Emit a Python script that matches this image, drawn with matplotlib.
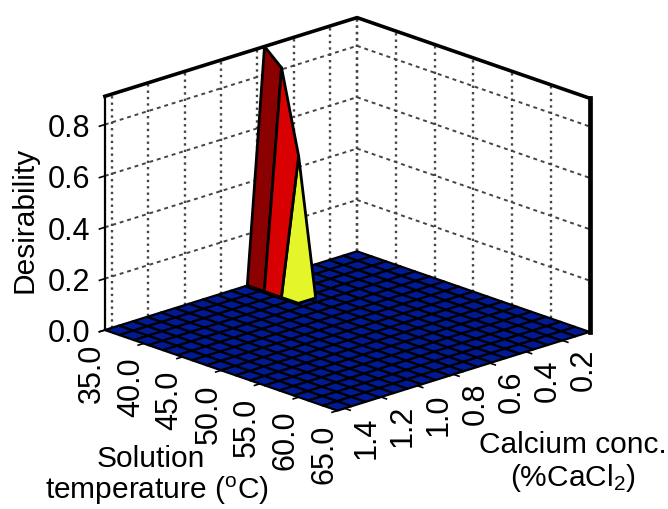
# Desirability surface, temperature vs calcium concentration
import matplotlib
matplotlib.use("Agg")
import matplotlib.pyplot as plt
import numpy as np
from mpl_toolkits.mplot3d import proj3d
from mpl_toolkits.mplot3d.art3d import Poly3DCollection

plt.rcParams['font.family'] = ['Liberation Sans', 'DejaVu Sans']
plt.rcParams['mathtext.fontset'] = 'custom'
plt.rcParams['mathtext.rm'] = 'Liberation Sans'
plt.rcParams['mathtext.default'] = 'rm'

# Axis ticks
temp_ticks = [35.0, 40.0, 45.0, 50.0, 55.0, 60.0, 65.0]
ca_ticks = [1.4, 1.2, 1.0, 0.8, 0.6, 0.4, 0.2]
z_ticks = [0.0, 0.2, 0.4, 0.6, 0.8]

# Axis limits
temp_lim = (35.0, 65.0)
ca_lim = (0.05, 1.44)
z_top = 0.91

# Flat part of the surface
n_temp_cells = 16
n_ca_cells = 18

# Peak
peak_temp = [35.0, 37.2, 39.4, 41.6]
peak_ca_front = 0.655
peak_ca_ridge = 0.56
peak_z = [0.91, 0.85, 0.53, 0.0]
peak_colors = ['#8b0000', '#d80000', '#e4f52a']

NAVY = '#001a96'

fig = plt.figure(figsize=(6.68, 5.10), dpi=100)
ax = fig.add_axes([0.0095, 0.0647, 1, 1], projection='3d', computed_zorder=False)
ax.set_proj_type('ortho')
ax.view_init(elev=19.2, azim=-43.5)
ax.set_box_aspect((0.972, 1, 0.712), zoom=1.036)
ax.set_xlim(*temp_lim)
ax.set_ylim(ca_lim[1], ca_lim[0])
ax.set_zlim(0, z_top)
ax.set_axis_off()

t0, t1 = temp_lim
c0, c1 = ca_lim

# Dotted grid on the two back walls
for c in ca_ticks + [c0]:
    ax.plot([t0, t0], [c, c], [0, z_top], color='#444444', lw=1.7, ls=(0, (1, 1.7)), zorder=1)
for t in temp_ticks[:-1]:
    ax.plot([t, t], [c0, c0], [0, z_top], color='#444444', lw=1.7, ls=(0, (1, 1.7)), zorder=1)
for z in z_ticks[1:]:
    ax.plot([t0, t0], [c1, c0], [z, z], color='#444444', lw=1.4, ls=(0, (2, 2)), zorder=1)
    ax.plot([t0, t1], [c0, c0], [z, z], color='#444444', lw=1.4, ls=(0, (2, 2)), zorder=1)

# Wall outline
ax.plot([t0, t0, t1], [c1, c0, c0], [z_top, z_top, z_top], color='black', lw=2.6, zorder=2)
ax.plot([t0, t0], [c1, c1], [0, z_top], color='black', lw=1.6, zorder=2)
ax.plot([t1, t1], [c0, c0], [0, z_top], color='black', lw=3.4, zorder=2)

# Floor of the surface
T, C = np.meshgrid(np.linspace(t0, t1, n_temp_cells + 1), np.linspace(c0, c1, n_ca_cells + 1))
ax.plot_surface(T, C, np.zeros_like(T), rstride=1, cstride=1, color=NAVY, shade=False,
                edgecolor='black', linewidth=1.6, zorder=3)

# Peak faces, left to right
verts = []
for i in range(3):
    verts.append([(peak_temp[i], peak_ca_front, 0), (peak_temp[i + 1], peak_ca_front, 0),
                  (peak_temp[i + 1], peak_ca_ridge, peak_z[i + 1]), (peak_temp[i], peak_ca_ridge, peak_z[i])])
ax.add_collection3d(Poly3DCollection(verts, facecolors=peak_colors, edgecolors='black', linewidths=2, zorder=4))


def label_3d(x, y, z, text, **kwargs):
    # Text3D ignores rotation, so project the point and place plain text
    px, py, _ = proj3d.proj_transform(x, y, z, ax.get_proj())
    ax.text2D(px, py, text, transform=ax.transData, fontsize=22, va='center', **kwargs)


# Ticks and tick labels
fig.canvas.draw()
for t in temp_ticks:
    ax.plot([t, t], [c1, c1 + 0.03], [0, 0], color='black', lw=1.2, zorder=5)
    label_3d(t, c1 + 0.07, -0.15, f'{t:.1f}', rotation=90, ha='center')
for c in ca_ticks:
    ax.plot([t1, t1 + 0.7], [c, c], [0, 0], color='black', lw=1.2, zorder=5)
    label_3d(t1 + 2.8, c, -0.08, f'{c:.1f}', rotation=90, ha='center')
for z in z_ticks:
    ax.plot([t0, t0], [c1, c1 + 0.03], [z, z], color='black', lw=1.2, zorder=5)
    label_3d(t0, c1 + 0.08, z + 0.005, f'{z:.1f}', ha='right')

# Axis titles
fig.text(25 / 668, 1 - 220 / 510, 'Desirability', rotation=90, ha='center', va='center', fontsize=21.5)
fig.text(151 / 668, 1 - 459 / 510, 'Solution', ha='center', va='center', fontsize=21.5)
fig.text(157 / 668, 1 - 491 / 510, 'temperature ($^{o}$C)', ha='center', va='center', fontsize=21.5)
fig.text(573 / 668, 1 - 445 / 510, 'Calcium conc.', ha='center', va='center', fontsize=21.5)
fig.text(573 / 668, 1 - 478 / 510, '(%CaCl$_{2}$)', ha='center', va='center', fontsize=21.5)

fig.savefig('out.png', dpi=100)
